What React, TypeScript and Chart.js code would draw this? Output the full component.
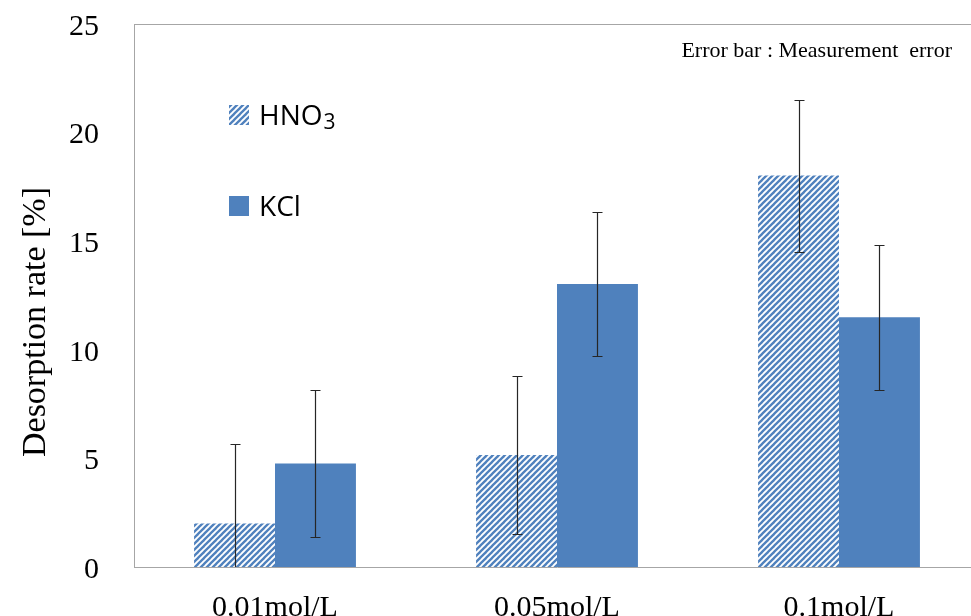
import { useEffect, useRef } from "react";
import { Chart, registerables } from "chart.js";

Chart.register(...registerables);

const categories = ["0.01mol/L", "0.05mol/L", "0.1mol/L"];
const hno3Values = [2.0, 5.16, 18.02];
const hno3Errors = [3.65, 3.62, 3.5];
const kclValues = [4.77, 13.03, 11.5];
const kclErrors = [3.4, 3.33, 3.33];
const yMin = 0;
const yMax = 25;
const yStep = 5;
const legendLabels = ["HNO", "KCl"];
const noteText = "Error bar : Measurement  error";
const yTitle = "Desorption rate [%]";

const BLUE = "#4F81BD";
const SERIF = "'Liberation Serif', 'Times New Roman', serif";
const SANS = "'Open Sans', 'Noto Sans', sans-serif";

function makeHatch(): CanvasPattern | string {
  const s = 6;
  const c = document.createElement("canvas");
  c.width = s;
  c.height = s;
  const ctx = c.getContext("2d");
  if (!ctx) return BLUE;
  ctx.fillStyle = "#fff";
  ctx.fillRect(0, 0, s, s);
  ctx.strokeStyle = BLUE;
  ctx.lineWidth = 2.3;
  for (const k of [-s, 0, s]) {
    ctx.beginPath();
    ctx.moveTo(k - 1, s + 1);
    ctx.lineTo(k + s + 1, -1);
    ctx.stroke();
  }
  const p = ctx.createPattern(c, "repeat");
  return p || BLUE;
}

export default function App() {
  const ref = useRef<HTMLCanvasElement | null>(null);

  useEffect(() => {
    if (!ref.current) return;
    const hatch = makeHatch();
    const errs = [hno3Errors, kclErrors];

    const decor = {
      id: "decor",
      afterDatasetsDraw(chart: any) {
        const ctx = chart.ctx as CanvasRenderingContext2D;
        const ys = chart.scales.y;
        const area = chart.chartArea;
        ctx.save();
        ctx.beginPath();
        ctx.rect(area.left, area.top, area.right - area.left, area.bottom - area.top);
        ctx.clip();
        ctx.strokeStyle = "#262626";
        ctx.lineWidth = 1.2;
        chart.data.datasets.forEach((ds: any, i: number) => {
          const meta = chart.getDatasetMeta(i);
          meta.data.forEach((el: any, j: number) => {
            const v = ds.data[j];
            const e = errs[i][j];
            const x = Math.round(el.x) + 0.5;
            const yt = Math.round(ys.getPixelForValue(v + e)) + 0.5;
            const yb = Math.round(ys.getPixelForValue(v - e)) + 0.5;
            ctx.beginPath();
            ctx.moveTo(x, yt);
            ctx.lineTo(x, yb);
            ctx.moveTo(x - 5, yt);
            ctx.lineTo(x + 5, yt);
            if (v - e >= yMin) {
              ctx.moveTo(x - 5, yb);
              ctx.lineTo(x + 5, yb);
            }
            ctx.stroke();
          });
        });
        ctx.restore();
      },
      afterDraw(chart: any) {
        const ctx = chart.ctx as CanvasRenderingContext2D;
        const area = chart.chartArea;
        ctx.save();
        // top border
        ctx.strokeStyle = "#A6A6A6";
        ctx.lineWidth = 1;
        ctx.beginPath();
        ctx.moveTo(area.left, Math.round(area.top) + 0.5);
        ctx.lineTo(area.right, Math.round(area.top) + 0.5);
        ctx.stroke();

        // legend
        ctx.fillStyle = hatch as any;
        ctx.fillRect(229, 105, 20, 20);
        ctx.fillStyle = BLUE;
        ctx.fillRect(229, 196, 20, 20);
        ctx.fillStyle = "#000";
        ctx.textBaseline = "alphabetic";
        ctx.textAlign = "left";
        ctx.font = `28px ${SANS}`;
        ctx.fillText(legendLabels[0], 259, 125);
        const w = ctx.measureText(legendLabels[0]).width;
        ctx.font = `21px ${SANS}`;
        ctx.fillText("3", 259 + w + 1, 129);
        ctx.font = `28px ${SANS}`;
        ctx.fillText(legendLabels[1], 259, 216);

        // note
        ctx.font = `22px ${SERIF}`;
        ctx.textAlign = "right";
        ctx.fillText(noteText, 952, 57);

        // y title
        ctx.translate(36, 322);
        ctx.rotate(-Math.PI / 2);
        ctx.textAlign = "center";
        ctx.textBaseline = "middle";
        ctx.font = `34px ${SERIF}`;
        ctx.fillText(yTitle, 0, 0);
        ctx.restore();
      },
    };

    const chart = new Chart(ref.current, {
      type: "bar",
      data: {
        labels: categories,
        datasets: [
          {
            label: "HNO3",
            data: hno3Values,
            backgroundColor: hatch as any,
            borderWidth: 0,
            categoryPercentage: 0.574,
            barPercentage: 1,
          },
          {
            label: "KCl",
            data: kclValues,
            backgroundColor: BLUE,
            borderWidth: 0,
            categoryPercentage: 0.574,
            barPercentage: 1,
          },
        ],
      },
      options: {
        responsive: false,
        animation: false,
        devicePixelRatio: 1,
        layout: { padding: { top: 24, right: 10, left: 0, bottom: 0 } },
        plugins: {
          legend: { display: false },
          tooltip: { enabled: false },
          title: { display: false },
        },
        scales: {
          x: {
            grid: { display: false, drawTicks: false },
            border: { display: true, color: "#A6A6A6", width: 1 },
            ticks: {
              color: "#000",
              font: { family: SERIF, size: 30 },
              padding: 23,
              maxRotation: 0,
            },
            afterFit(scale: any) {
              scale.height = 49;
              scale.paddingLeft = 0;
              scale.paddingRight = 0;
              scale.paddingTop = 0;
              scale.paddingBottom = 0;
            },
          },
          y: {
            min: yMin,
            max: yMax,
            grid: { display: false, drawTicks: false },
            border: { display: true, color: "#A6A6A6", width: 1 },
            ticks: {
              stepSize: yStep,
              color: "#000",
              font: { family: SERIF, size: 30 },
              padding: 35,
              labelOffset: 3,
            },
            afterFit(scale: any) {
              scale.width = 134;
              scale.paddingTop = 0;
              scale.paddingBottom = 0;
              scale.paddingLeft = 0;
              scale.paddingRight = 0;
            },
          },
        },
      },
      plugins: [decor],
    });
    return () => chart.destroy();
  }, []);

  return (
    <div
      style={{
        position: "absolute",
        left: 0,
        top: 0,
        width: 971,
        height: 616,
        overflow: "hidden",
        background: "#fff",
      }}
    >
      <canvas ref={ref} width={990} height={616} style={{ display: "block" }} />
    </div>
  );
}
